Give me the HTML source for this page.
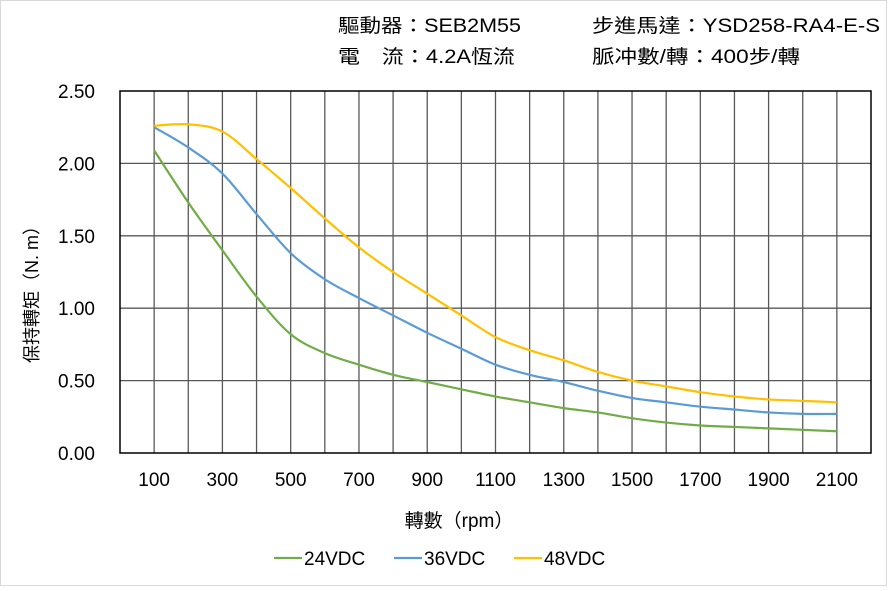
<!DOCTYPE html>
<html><head><meta charset="utf-8"><style>
body{margin:0;background:#fff;}
svg text{font-family:"Liberation Sans","Noto Sans CJK TC",sans-serif;fill:#000;}
</style></head><body>
<svg id="s" width="888" height="586" xmlns="http://www.w3.org/2000/svg">
<rect x="0.5" y="0.5" width="886" height="585" fill="#fff" stroke="#d9d9d9"/>
<g font-size="19">
<text x="338" y="32" textLength="183" lengthAdjust="spacingAndGlyphs">驅動器：SEB2M55</text>
<text x="592" y="32" textLength="288" lengthAdjust="spacingAndGlyphs">步進馬達：YSD258-RA4-E-S</text>
<text x="338" y="63" textLength="177" lengthAdjust="spacingAndGlyphs">電　流：4.2A恆流</text>
<text x="592" y="63" textLength="208" lengthAdjust="spacingAndGlyphs">脈冲數/轉：400步/轉</text>
</g>
<g id="grid" stroke="#595959" stroke-width="1.3"></g>
<rect x="120" y="91" width="751" height="362" fill="none" stroke="#000" stroke-width="1.5"/>
<g id="lab" font-size="19"></g>
<text x="0" y="0" font-size="18" transform="translate(38,290) rotate(-90)" text-anchor="middle">保持轉矩（N. m）</text>
<text x="459" y="527" font-size="19" text-anchor="middle">轉數（rpm）</text>
<g id="ser" fill="none" stroke-width="2.2"></g>
<g font-size="19">
<line x1="274" y1="558" x2="302" y2="558" stroke="#70ad47" stroke-width="2.2"/><text x="304" y="565">24VDC</text>
<line x1="394" y1="558" x2="422" y2="558" stroke="#5b9bd5" stroke-width="2.2"/><text x="424" y="565">36VDC</text>
<line x1="514" y1="558" x2="542" y2="558" stroke="#ffc000" stroke-width="2.2"/><text x="544" y="565">48VDC</text>
</g>
</svg>
<script>
var NS="http://www.w3.org/2000/svg";
function X(r){return 120+r*751/2200;}
function Y(v){return 453-v*362/2.5;}
function el(p,t,a,txt){var e=document.createElementNS(NS,t);for(var k in a)e.setAttribute(k,a[k]);if(txt)e.textContent=txt;document.getElementById(p).appendChild(e);}
for(var r=100;r<2200;r+=100)el("grid","line",{x1:X(r),x2:X(r),y1:91,y2:453});
for(var v=0.5;v<2.5;v+=0.5)el("grid","line",{x1:120,x2:871,y1:Y(v),y2:Y(v)});
for(var v=0;v<=2.5;v+=0.5)el("lab","text",{x:95,y:Y(v)+7,"text-anchor":"end"},v.toFixed(2));
for(var r=100;r<=2100;r+=200)el("lab","text",{x:X(r),y:486,"text-anchor":"middle"},String(r));
var D={"#70ad47":[2.09,1.73,1.40,1.08,0.82,0.69,0.61,0.54,0.49,0.44,0.39,0.35,0.31,0.28,0.24,0.21,0.19,0.18,0.17,0.16,0.15],
"#5b9bd5":[2.25,2.11,1.93,1.65,1.38,1.20,1.07,0.95,0.83,0.72,0.61,0.54,0.49,0.43,0.38,0.35,0.32,0.30,0.28,0.27,0.27],
"#ffc000":[2.26,2.27,2.22,2.03,1.83,1.62,1.42,1.25,1.10,0.95,0.80,0.71,0.64,0.56,0.50,0.46,0.42,0.39,0.37,0.36,0.35]};
for(var c in D){var p=D[c].map(function(v,i){return [X(100+i*100),Y(v)];});
var d="M"+p[0][0]+","+p[0][1];
for(var i=0;i<p.length-1;i++){var p0=p[i-1]||p[i],p1=p[i],p2=p[i+1],p3=p[i+2]||p2;
d+=" C"+(p1[0]+(p2[0]-p0[0])/6)+","+(p1[1]+(p2[1]-p0[1])/6)+" "+(p2[0]-(p3[0]-p1[0])/6)+","+(p2[1]-(p3[1]-p1[1])/6)+" "+p2[0]+","+p2[1];}
el("ser","path",{d:d,stroke:c});}
</script>
</body></html>
